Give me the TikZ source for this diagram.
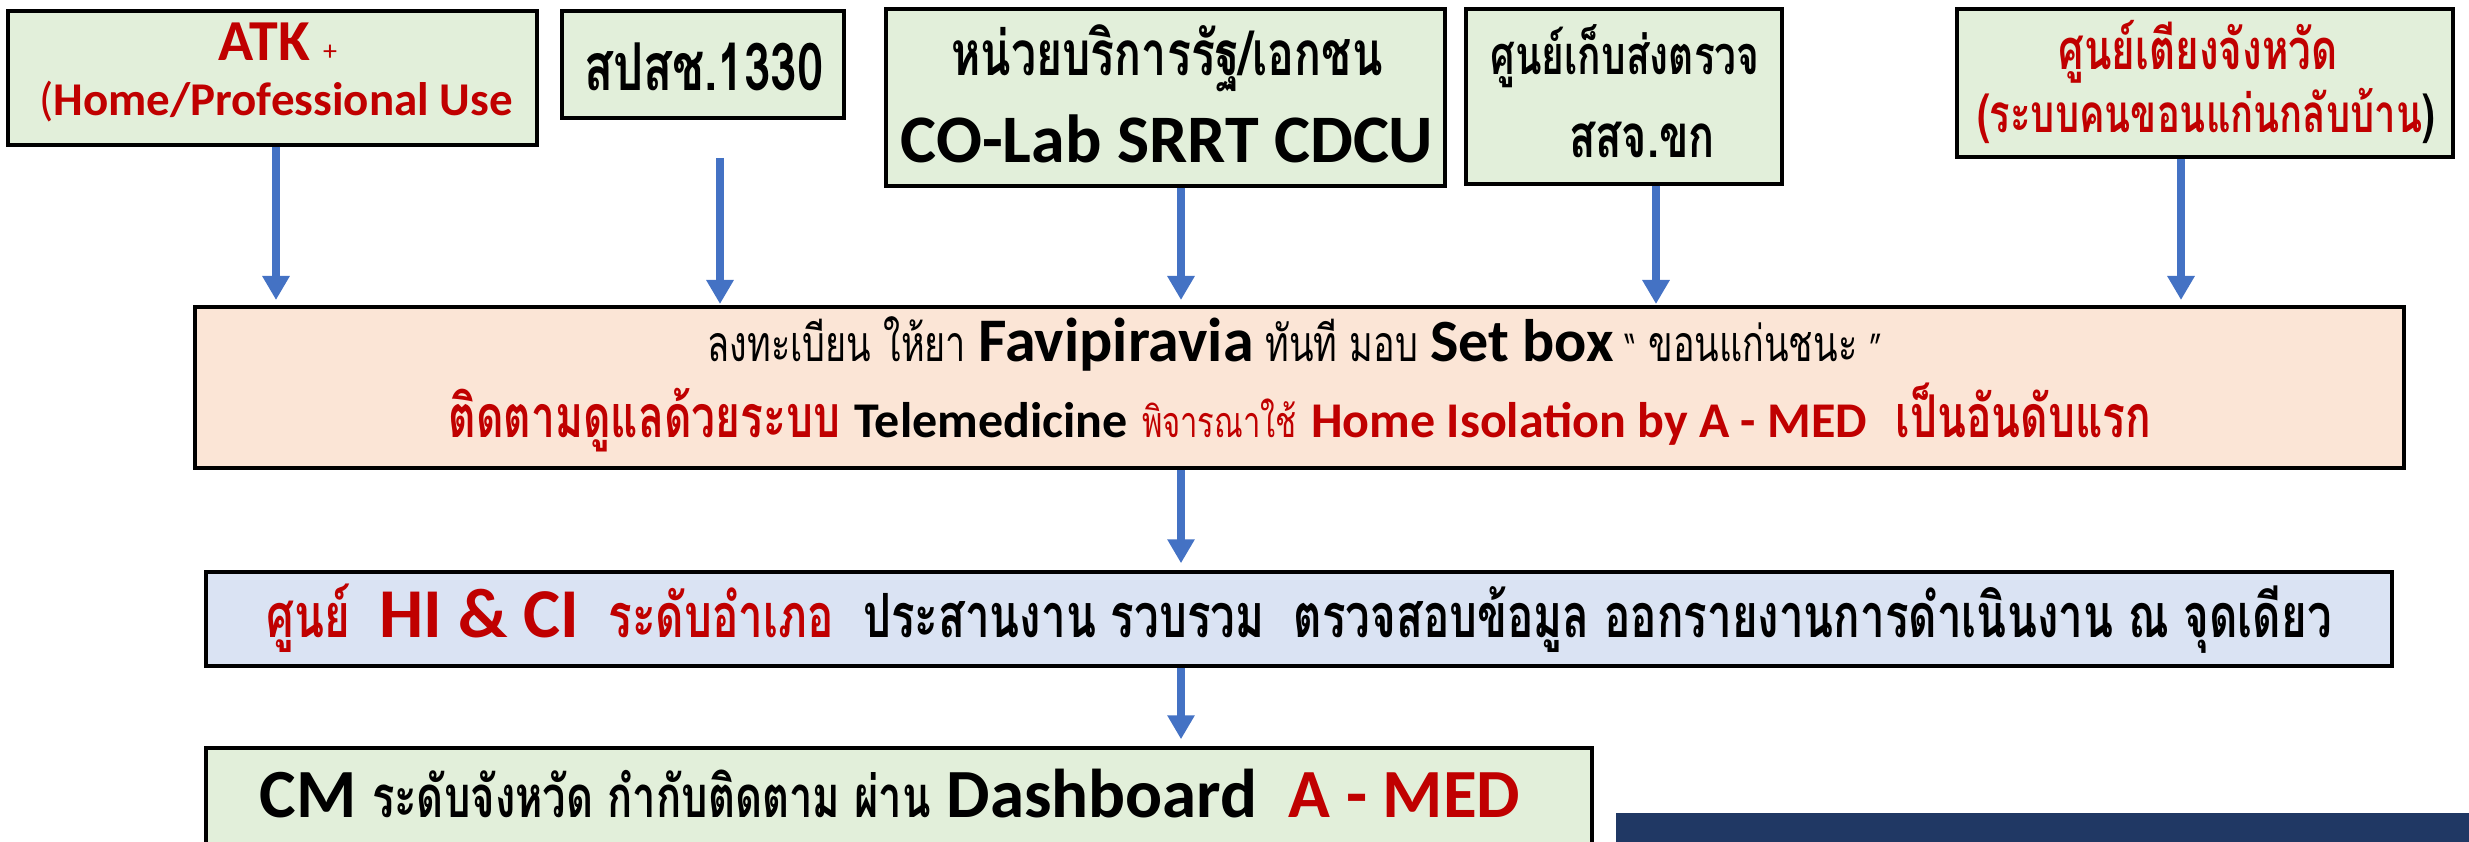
\documentclass[tikz,border=0pt]{standalone}
\usepackage{fontspec}
\setmainfont{Carlito}
\newfontfamily\thai[Script=Thai,FakeStretch=0.72]{Loma}
\usetikzlibrary{arrows.meta}

\definecolor{boxgreen}{HTML}{E2EFDA}
\definecolor{boxpeach}{HTML}{FBE5D6}
\definecolor{boxblue}{HTML}{DAE3F3}
\definecolor{navy}{HTML}{203864}
\definecolor{arrowblue}{HTML}{4472C4}
\definecolor{medred}{HTML}{C00000}
\newcommand{\fs}[1]{\fontsize{#1}{#1}\selectfont}

\tikzset{
  box/.style={draw=black, line width=3.5pt, inner sep=0pt},
  flow/.style={arrowblue, line width=8pt, -{Triangle[width=26pt,length=24pt]}},
  txt/.style={inner sep=0pt, anchor=base},
}

\begin{document}
\begin{tikzpicture}[x=1pt,y=-1pt]
    \useasboundingbox (0,0) rectangle (2469,842);
    \clip (0,0) rectangle (2469,842);
    % source boxes
    \node[box, fill=boxgreen, minimum width=529pt, minimum height=134pt] (atk) at (272.5,78) {};
    \node[box, fill=boxgreen, minimum width=282pt, minimum height=107pt] (nhso) at (703,64.5) {};
    \node[box, fill=boxgreen, minimum width=559pt, minimum height=177pt] (unit) at (1165.5,97.5) {};
    \node[box, fill=boxgreen, minimum width=316pt, minimum height=175pt] (lab) at (1624,96.5) {};
    \node[box, fill=boxgreen, minimum width=496pt, minimum height=148pt] (bed) at (2205,83) {};
    % main flow
    \node[box, fill=boxpeach, minimum width=2209pt, minimum height=161pt] (reg) at (1299.5,387.5) {};
    \node[box, fill=boxblue, minimum width=2186pt, minimum height=94pt] (hici) at (1299,619) {};
    \node[box, fill=boxgreen, minimum width=1386pt, minimum height=130pt] (cm) at (899,813) {};
    \fill[navy] (1616,813) rectangle (2480,860);

    \node[txt] (t-atk) at (278,61) {\color{medred}\fs{58}\bfseries ATK {\mdseries\fs{28}+}};
    \node[txt] (t-use) at (276,116) {\color{medred}\fs{47}{\mdseries(}\bfseries Home/Professional Use};
    \node[txt] (t-nhso) at (704,91) {\thai\bfseries\fs{66}สปสช.1330};
    \node[txt] (t-unit) at (1167,76) {\thai\bfseries\fs{62}หน่วยบริการรัฐ/เอกชน};
    \node[txt] (t-colab) at (1167,163) {\bfseries\fs{68}CO-Lab SRRT CDCU};
    \node[txt] (t-lab) at (1625,75) {\thai\bfseries\fs{54}ศูนย์เก็บส่งตรวจ};
    \node[txt] (t-kk) at (1642,158) {\thai\bfseries\fs{60}สสจ.ขก};
    \node[txt] (t-bed) at (2198,70) {\color{medred}\thai\bfseries\fs{56}ศูนย์เตียงจังหวัด};
    \node[txt] (t-home) at (2206,133) {\thai\bfseries\fs{53}\textcolor{medred}{(ระบบคนขอนแก่นกลับบ้าน})};

    \node[txt] (t-reg) at (1295,362) {\thai\fs{50}ลงทะเบียน ให้ยา {\rmfamily\bfseries\fs{62}Favipiravia} ทันที มอบ {\rmfamily\bfseries\fs{60}Set box} {\fs{36}“} ขอนแก่นชนะ {\fs{36}”}};
    \node[txt] (t-tele) at (1300,437) {\color{medred}\thai\bfseries\fs{59}ติดตามดูแลด้วยระบบ {\rmfamily\fs{50}\color{black}Telemedicine} {\mdseries\fs{43}พิจารณาใช้} {\rmfamily\fs{50}Home Isolation by A - MED}\ \ เป็นอันดับแรก};
    \node[txt] (t-hici) at (1299,637) {\thai\bfseries\fs{61}\textcolor{medred}{ศูนย์\ \ {\rmfamily\fs{70}HI \& CI}\ \ ระดับอำเภอ}\ \ ประสานงาน รวบรวม\ \ ตรวจสอบข้อมูล ออกรายงานการดำเนินงาน ณ จุดเดียว};
    \node[txt] (t-cm) at (890,817) {\bfseries\fs{69}CM {\thai\fs{58}ระดับจังหวัด กำกับติดตาม ผ่าน} Dashboard\ \ \textcolor{medred}{A - MED}};

    % arrows
    \coordinate (a1) at (276,300);
    \coordinate (a2s) at (720,158);
    \coordinate (a2) at (720,304);
    \coordinate (a3) at (1181,300);
    \coordinate (a4) at (1656,304);
    \coordinate (a5) at (2181,300);
    \draw[flow] (atk.south -| a1) -- (a1);
    \draw[flow] (a2s) -- (a2);
    \draw[flow] (unit.south -| a3) -- (a3);
    \draw[flow] (lab.south -| a4) -- (a4);
    \draw[flow] (bed.south -| a5) -- (a5);
    \draw[flow] (reg.south -| a3) -- ([yshift=7pt]hici.north -| a3);
    \draw[flow] (hici.south -| a3) -- ([yshift=7pt]cm.north -| a3);
\end{tikzpicture}
\end{document}
